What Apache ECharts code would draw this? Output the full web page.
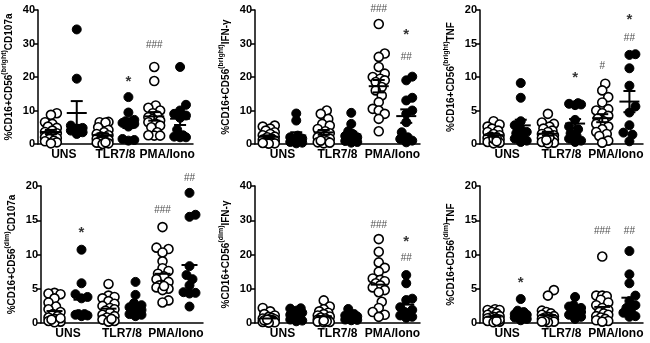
<!DOCTYPE html>
<html>
<head>
<meta charset="utf-8">
<script src="https://cdn.jsdelivr.net/npm/echarts@6/dist/echarts.min.js"></script>
<style>
  html, body { margin: 0; padding: 0; background: #fff; }
  #chart { width: 650px; height: 343px; }
</style>
</head>
<body>
<div id="chart"></div>
<script>
// 3 stimulations, each with open (first) and filled (second) group
var categories = ['UNS', 'TLR7/8', 'PMA/Iono'];

// each panel: 6 columns -> UNS open, UNS filled, TLR open, TLR filled, PMA open, PMA filled
var brightCD107a = [
    [9.2, 8.7, 6.5, 6.0, 5.2, 4.8, 4.0, 3.6, 3.2, 2.8, 2.5, 2.0, 1.8, 1.5, 1.0, 0.8, 0.5, 0.2],
    [34.2, 19.5, 5.5, 4.8, 4.3, 4.0, 3.5, 3.0, 4.5],
    [6.6, 6.5, 6.4, 5.0, 4.2, 3.5, 3.0, 2.6, 2.2, 2.0, 1.6, 1.2, 1.0, 0.7, 0.4, 0.2, 0.0, 0.5],
    [14.0, 9.4, 7.2, 6.8, 6.5, 6.3, 6.0, 5.2, 1.5, 1.0, 1.2],
    [23.0, 18.8, 11.5, 10.8, 10.0, 9.2, 8.5, 8.0, 7.5, 7.0, 6.5, 6.0, 5.5, 5.0, 3.5, 2.5, 2.5, 2.6],
    [23.0, 11.7, 10.0, 9.0, 8.5, 7.8, 4.3, 2.6, 2.0, 2.0, 2.2]
];
var brightIFNg = [
    [5.5, 5.2, 4.6, 4.0, 3.5, 3.0, 2.6, 2.2, 2.0, 1.6, 1.3, 1.0, 0.8, 0.6, 0.4, 0.2, 0.1, 0.3],
    [9.1, 7.0, 2.5, 2.0, 1.6, 1.2, 0.9, 0.6, 0.4, 0.2],
    [10.0, 9.0, 7.5, 6.0, 5.5, 4.5, 3.8, 3.2, 2.8, 2.4, 2.0, 1.6, 1.2, 0.8, 0.5, 0.2, 0.4, 1.0],
    [9.3, 6.0, 3.8, 3.0, 2.4, 2.0, 1.6, 1.2, 0.9, 0.6, 0.4],
    [35.8, 27.0, 26.0, 23.0, 21.0, 20.0, 19.5, 19.0, 18.5, 17.0, 16.0, 14.5, 12.5, 10.5, 10.0, 9.0, 7.5, 3.8],
    [20.1, 19.0, 13.8, 13.0, 10.0, 9.0, 6.5, 3.5, 2.0, 1.5, 1.0, 0.5]
];
var brightTNF = [
    [3.4, 2.9, 2.6, 2.3, 2.0, 1.8, 1.5, 1.3, 1.1, 0.9, 0.7, 0.5, 0.3, 0.2, 0.1, 0.8, 1.0, 0.4],
    [9.1, 6.9, 3.4, 2.8, 2.2, 1.6, 1.2, 0.8, 0.5, 0.3, 1.8],
    [4.5, 3.2, 3.0, 2.6, 2.3, 2.0, 1.8, 1.5, 1.3, 1.1, 0.9, 0.7, 0.5, 0.3, 0.2, 0.1, 1.0, 0.6],
    [6.1, 6.0, 5.8, 5.9, 3.6, 2.6, 2.2, 1.6, 1.2, 0.8, 0.5, 0.3],
    [9.0, 8.0, 7.0, 6.2, 5.2, 5.0, 4.6, 4.2, 3.8, 3.4, 3.0, 2.6, 2.2, 1.8, 1.5, 1.2, 0.5, 0.2],
    [13.4, 13.3, 11.3, 8.7, 5.6, 4.7, 2.8, 1.7, 1.4, 0.4]
];
var dimCD107a = [
    [4.4, 4.3, 4.2, 3.6, 3.0, 2.4, 2.0, 1.6, 1.3, 1.0, 0.8, 0.6, 0.4, 0.3, 0.2, 0.1, 0.5, 0.7],
    [10.7, 5.8, 4.2, 3.8, 3.6, 1.3, 1.2, 1.1, 1.3, 1.0],
    [5.7, 4.0, 3.8, 3.6, 3.2, 2.8, 2.5, 2.2, 2.0, 1.8, 1.5, 1.2, 1.0, 0.8, 0.5, 0.3, 0.2, 0.6],
    [6.0, 4.1, 2.9, 2.6, 2.3, 2.1, 1.9, 1.7, 1.5, 1.3, 1.2, 1.0],
    [14.0, 11.0, 10.8, 10.3, 9.0, 8.0, 7.6, 7.2, 6.8, 6.4, 6.0, 5.5, 5.2, 5.0, 4.8, 3.3, 3.0, 5.4],
    [19.0, 15.8, 15.5, 8.3, 7.0, 6.4, 5.5, 4.5, 4.3, 4.4, 2.4]
];
var dimIFNg = [
    [4.4, 3.4, 2.6, 2.2, 1.8, 1.5, 1.3, 1.1, 0.9, 0.7, 0.6, 0.5, 0.4, 0.3, 0.2, 0.1, 0.8, 1.0],
    [4.3, 4.2, 3.6, 3.0, 2.4, 1.8, 1.4, 1.0, 0.7, 0.5],
    [6.6, 4.8, 4.0, 3.4, 3.0, 2.6, 2.2, 1.9, 1.6, 1.3, 1.0, 0.8, 0.6, 0.4, 0.3, 0.2, 0.5, 0.7],
    [4.1, 2.6, 2.2, 1.9, 1.6, 1.4, 1.2, 1.0, 0.9, 0.8],
    [24.5, 20.8, 17.7, 16.1, 15.0, 13.0, 12.6, 12.2, 11.6, 11.0, 10.4, 9.6, 9.0, 6.2, 4.4, 3.2, 2.4, 1.8],
    [14.0, 11.6, 7.1, 6.7, 4.6, 3.8, 3.2, 2.6, 2.2, 1.8, 1.5]
];
var dimTNF = [
    [2.0, 1.9, 1.9, 1.6, 1.4, 1.2, 1.0, 0.9, 0.8, 0.7, 0.6, 0.5, 0.4, 0.3, 0.2, 0.1, 0.5, 0.3],
    [3.5, 1.8, 1.6, 1.4, 1.3, 1.2, 1.1, 1.0, 0.8, 0.6, 0.4],
    [4.8, 4.0, 1.8, 1.6, 1.4, 1.2, 1.0, 0.9, 0.8, 0.7, 0.6, 0.5, 0.4, 0.3, 0.2, 0.1, 0.3, 0.2],
    [3.8, 2.6, 2.4, 2.2, 2.0, 1.8, 1.6, 1.4, 1.2, 0.9, 0.6],
    [9.7, 4.0, 4.0, 3.9, 3.4, 3.0, 2.6, 2.2, 1.9, 1.6, 1.4, 1.2, 1.0, 0.8, 0.6, 0.4, 0.3, 0.2],
    [10.5, 7.1, 5.8, 4.0, 3.2, 2.6, 2.2, 1.8, 1.5, 1.0, 0.9]
];

var panelData = [brightCD107a, brightIFNg, brightTNF, dimCD107a, dimIFNg, dimTNF];
var panelSubset = ['bright', 'bright', 'bright', 'dim', 'dim', 'dim'];
var panelMarker = ['CD107a', 'IFN-γ', 'TNF', 'CD107a', 'IFN-γ', 'TNF'];
var panelMax = [40, 40, 20, 20, 40, 20];
var panelStep = [10, 10, 5, 5, 10, 5];
var panelSem = [true, true, true, false, false, false];

// significance marks: [panel, column, y, text]
var marks = [
    [0, 3, 18.6, '*'], [0, 4, 29.6, '###'],
    [1, 4, 40.3, '###'], [1, 5, 25.8, '##'], [1, 5, 32.6, '*'],
    [2, 3, 9.9, '*'], [2, 4, 11.6, '#'], [2, 5, 15.8, '##'], [2, 5, 18.5, '*'],
    [3, 1, 13.1, '*'], [3, 4, 16.4, '###'], [3, 5, 21.2, '##'],
    [4, 4, 28.6, '###'], [4, 5, 18.9, '##'], [4, 5, 23.7, '*'],
    [5, 1, 5.8, '*'], [5, 4, 13.4, '###'], [5, 5, 13.4, '##']
];

var grids = [
    { left: 35, top: 10, width: 158, height: 134 },
    { left: 255, top: 10, width: 165, height: 134 },
    { left: 480, top: 10, width: 163, height: 134 },
    { left: 41, top: 186, width: 162, height: 137 },
    { left: 255, top: 186, width: 165, height: 137 },
    { left: 480, top: 186, width: 163, height: 137 }
];

var FONT = 'Liberation Sans, Arial, sans-serif';
var DOT = 9;

// spread overlapping dots sideways (simple beeswarm in pixel space)
function swarm(values, max, g) {
    var unit = g.width / 6;
    var placed = [];
    var order = values.map(function (v, i) { return i; })
        .sort(function (a, b) { return values[a] - values[b]; });
    var offs = new Array(values.length);
    order.forEach(function (i) {
        var py = values[i] / max * g.height;
        var cands = [0, 3, -3, 6, -6, 1.5, -1.5, 4.5, -4.5];
        var best = 0, bestD = -1;
        for (var k = 0; k < cands.length; k++) {
            var dmin = 1e9;
            placed.forEach(function (p) {
                var d = Math.hypot(p[0] - cands[k], p[1] - py);
                if (d < dmin) dmin = d;
            });
            if (dmin >= DOT * 0.75) { best = cands[k]; bestD = dmin; break; }
            if (dmin > bestD) { bestD = dmin; best = cands[k]; }
        }
        placed.push([best, py]);
        offs[i] = best / unit;
    });
    return offs;
}

function stats(arr) {
    var n = arr.length;
    var m = arr.reduce(function (a, b) { return a + b; }, 0) / n;
    var ss = arr.reduce(function (a, b) { return a + (b - m) * (b - m); }, 0);
    var sem = Math.sqrt(ss / (n - 1)) / Math.sqrt(n);
    return [m, m - sem, m + sem];
}

function makeRender(withSem) {
    return function (params, api) {
        var c = api.coord([api.value(0), api.value(1)]);
        var st = { stroke: '#000', lineWidth: 2 };
        var w = withSem ? 10 : 8;
        var kids = [
            { type: 'line', shape: { x1: c[0] - w, y1: c[1], x2: c[0] + w, y2: c[1] }, style: st }
        ];
        if (withSem) {
            var lo = api.coord([api.value(0), api.value(2)]);
            var hi = api.coord([api.value(0), api.value(3)]);
            kids.push(
                { type: 'line', shape: { x1: c[0], y1: lo[1], x2: c[0], y2: hi[1] }, style: st },
                { type: 'line', shape: { x1: c[0] - 6, y1: lo[1], x2: c[0] + 6, y2: lo[1] }, style: st },
                { type: 'line', shape: { x1: c[0] - 6, y1: hi[1], x2: c[0] + 6, y2: hi[1] }, style: st }
            );
        }
        return { type: 'group', children: kids };
    };
}

var xAxes = [], yAxes = [], series = [];

panelData.forEach(function (cols, p) {
    var g = grids[p];
    xAxes.push({
        gridIndex: p, type: 'value', min: 0, max: 6, interval: 1,
        axisLine: { lineStyle: { color: '#000', width: 1.5 } },
        axisTick: { show: false },
        splitLine: { show: false },
        axisLabel: {
            color: '#000', fontFamily: FONT, fontWeight: 'bold', fontSize: 12, margin: 5,
            showMinLabel: true, showMaxLabel: true,
            formatter: function (v) { return v % 2 === 1 ? categories[(v - 1) / 2] : ''; }
        }
    });
    yAxes.push({
        gridIndex: p, type: 'value', min: 0, max: panelMax[p], interval: panelStep[p],
        name: '{a|%CD16+CD56}{s|(' + panelSubset[p] + ')}{a|' + panelMarker[p] + '}',
        nameLocation: 'middle', nameGap: 24, nameRotate: 90,
        nameTextStyle: {
            rich: {
                a: { fontFamily: FONT, fontWeight: 'bold', fontSize: 10, color: '#000', lineHeight: 13, verticalAlign: 'bottom' },
                s: { fontFamily: FONT, fontWeight: 'bold', fontSize: 7, color: '#000', lineHeight: 13, verticalAlign: 'top' }
            }
        },
        axisLine: { show: true, lineStyle: { color: '#000', width: 1.5 } },
        axisTick: { show: true, length: 4, lineStyle: { color: '#000', width: 1.5 } },
        splitLine: { show: false },
        axisLabel: { color: '#000', fontFamily: FONT, fontWeight: 'bold', fontSize: 11, margin: 3 }
    });

    var bars = [];
    cols.forEach(function (vals, c) {
        var xc = c + 0.5;
        var offs = swarm(vals, panelMax[p], g);
        var filled = c % 2 === 1;
        series.push({
            type: 'scatter', xAxisIndex: p, yAxisIndex: p,
            symbol: 'circle', symbolSize: DOT, z: 2,
            itemStyle: filled
                ? { color: '#000', borderColor: '#000', borderWidth: 1, opacity: 1 }
                : { color: '#fff', borderColor: '#000', borderWidth: 1.6, opacity: 1 },
            data: vals.map(function (v, i) { return [xc + offs[i], v]; }),
            clip: false
        });
        var s = stats(vals);
        bars.push([xc, s[0], s[1], s[2]]);
    });
    series.push({
        type: 'custom', xAxisIndex: p, yAxisIndex: p, z: 5,
        renderItem: makeRender(panelSem[p]), data: bars, clip: false
    });
});

// significance labels, one series per panel
panelData.forEach(function (cols, p) {
    var items = marks.filter(function (m) { return m[0] === p; }).map(function (m) {
        var star = m[3] === '*';
        return {
            value: [m[1] + 0.5, m[2]],
            label: {
                show: true, position: 'inside', formatter: m[3],
                fontFamily: FONT, fontSize: star ? 15 : 10,
                fontWeight: star ? 'bold' : 'normal',
                color: star ? '#000' : '#222'
            }
        };
    });
    series.push({
        type: 'scatter', xAxisIndex: p, yAxisIndex: p, symbolSize: 1, silent: true,
        itemStyle: { color: 'rgba(0,0,0,0)' }, z: 6, clip: false, data: items
    });
});

var chart = echarts.init(document.getElementById('chart'));
chart.setOption({
    animation: false,
    backgroundColor: '#fff',
    grid: grids,
    xAxis: xAxes,
    yAxis: yAxes,
    series: series
});
</script>
</body>
</html>
